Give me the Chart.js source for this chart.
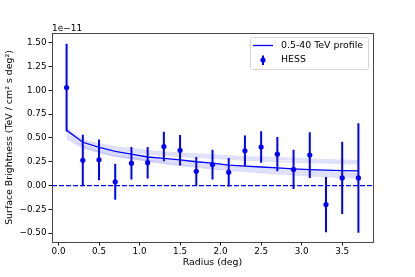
<!DOCTYPE html>
<html>
<head>
<meta charset="utf-8">
<script src="https://cdn.jsdelivr.net/npm/chart.js@4.4.0/dist/chart.umd.min.js"></script>
<style>
html, body { margin: 0; padding: 0; background: #fff; }
</style>
</head>
<body>
<canvas id="chart" width="415" height="277"></canvas>
<script>
// radius bins (deg) and HESS surface brightness, in units of 1e-11 TeV / cm2 s deg2
const radius = [0.1, 0.3, 0.5, 0.7, 0.9, 1.1, 1.3, 1.5, 1.7, 1.9, 2.1, 2.3, 2.5, 2.7, 2.9, 3.1, 3.3, 3.5, 3.7];
const hessFlux = [1.03, 0.265, 0.27, 0.04, 0.235, 0.24, 0.41, 0.37, 0.15, 0.22, 0.14, 0.365, 0.405, 0.33, 0.17, 0.32, -0.2, 0.08, 0.08];
const hessErr = [0.46, 0.27, 0.215, 0.19, 0.17, 0.165, 0.155, 0.16, 0.15, 0.155, 0.15, 0.16, 0.165, 0.18, 0.205, 0.24, 0.29, 0.38, 0.575];

// best 0.5-40 TeV profile
const profile = [0.58, 0.455, 0.40, 0.36, 0.33, 0.30, 0.285, 0.27, 0.25, 0.235, 0.215, 0.205, 0.195, 0.185, 0.175, 0.168, 0.163, 0.158, 0.155];

// faint profile samples
const sample1 = [0.61, 0.48, 0.44, 0.41, 0.39, 0.37, 0.355, 0.345, 0.335, 0.325, 0.315, 0.305, 0.30, 0.295, 0.29, 0.28, 0.275, 0.27, 0.265];
const sample2 = [0.60, 0.47, 0.43, 0.40, 0.38, 0.36, 0.345, 0.335, 0.325, 0.315, 0.305, 0.295, 0.29, 0.285, 0.28, 0.27, 0.265, 0.26, 0.255];
const sample3 = [0.59, 0.465, 0.42, 0.39, 0.37, 0.35, 0.335, 0.325, 0.315, 0.305, 0.295, 0.285, 0.28, 0.275, 0.27, 0.26, 0.255, 0.25, 0.245];
const sample4 = [0.58, 0.46, 0.41, 0.38, 0.36, 0.34, 0.325, 0.315, 0.305, 0.295, 0.285, 0.275, 0.27, 0.26, 0.255, 0.25, 0.245, 0.24, 0.235];
const sample5 = [0.57, 0.45, 0.40, 0.37, 0.35, 0.33, 0.315, 0.305, 0.295, 0.285, 0.275, 0.265, 0.26, 0.25, 0.245, 0.24, 0.235, 0.23, 0.225];
const sample6 = [0.55, 0.435, 0.38, 0.345, 0.32, 0.295, 0.275, 0.26, 0.245, 0.23, 0.215, 0.205, 0.19, 0.18, 0.17, 0.16, 0.15, 0.14, 0.13];
const sample7 = [0.54, 0.43, 0.375, 0.34, 0.31, 0.285, 0.265, 0.25, 0.235, 0.22, 0.205, 0.195, 0.18, 0.17, 0.16, 0.15, 0.14, 0.13, 0.122];
const sample8 = [0.53, 0.42, 0.365, 0.33, 0.30, 0.275, 0.255, 0.24, 0.225, 0.21, 0.195, 0.185, 0.17, 0.16, 0.15, 0.14, 0.13, 0.12, 0.113];
const sample9 = [0.52, 0.415, 0.36, 0.32, 0.295, 0.27, 0.25, 0.23, 0.215, 0.20, 0.185, 0.175, 0.16, 0.15, 0.14, 0.13, 0.12, 0.112, 0.105];
const sample10 = [0.51, 0.41, 0.355, 0.315, 0.29, 0.265, 0.24, 0.22, 0.205, 0.19, 0.175, 0.165, 0.15, 0.14, 0.13, 0.12, 0.11, 0.103, 0.096];
const sample11 = [0.50, 0.40, 0.35, 0.31, 0.285, 0.26, 0.235, 0.215, 0.20, 0.18, 0.165, 0.155, 0.14, 0.13, 0.12, 0.11, 0.10, 0.093, 0.086];
const sample12 = [0.49, 0.395, 0.345, 0.305, 0.28, 0.255, 0.23, 0.21, 0.19, 0.175, 0.16, 0.145, 0.135, 0.12, 0.11, 0.10, 0.092, 0.083, 0.076];
const samples = [sample1, sample2, sample3, sample4, sample5, sample6, sample7, sample8, sample9, sample10, sample11, sample12];

const xTicks = [0, 0.5, 1.0, 1.5, 2.0, 2.5, 3.0, 3.5];
const yTicks = [-0.5, -0.25, 0, 0.25, 0.5, 0.75, 1.0, 1.25, 1.5];
const xMin = -0.08, xMax = 3.88;
const yMin = -0.593, yMax = 1.603;
const legendLabels = ['0.5-40 TeV profile', 'HESS'];

const FONT = 'DejaVu Sans';
const BLUE = 'rgb(0,0,255)';

function toPoints(ys) {
    return radius.map((x, i) => ({ x: x, y: ys[i] }));
}

// error bars as one line with gaps between bins
const errData = [];
radius.forEach((x, i) => {
    errData.push({ x: x, y: hessFlux[i] - hessErr[i] });
    errData.push({ x: x, y: hessFlux[i] + hessErr[i] });
    errData.push({ x: x, y: null });
});

const datasets = [
    { data: toPoints(hessFlux), showLine: false, pointRadius: 2.6, pointBackgroundColor: BLUE, pointBorderWidth: 0 },
    { data: errData, showLine: true, spanGaps: false, borderColor: BLUE, borderWidth: 2, pointRadius: 0 },
    { data: toPoints(profile), showLine: true, borderColor: BLUE, borderWidth: 1.3, pointRadius: 0 },
    { data: [{ x: xMin, y: 0 }, { x: xMax, y: 0 }], showLine: true, borderColor: BLUE, borderWidth: 1.3, borderDash: [5, 2], pointRadius: 0 }
];
samples.forEach(s => {
    datasets.push({ data: toPoints(s), showLine: true, borderColor: 'rgba(0,0,255,0.12)', borderWidth: 1, pointRadius: 0 });
});

const framePlugin = {
    id: 'frame',
    afterDraw(chart) {
        const ctx = chart.ctx;
        const a = chart.chartArea;
        ctx.save();
        ctx.strokeStyle = '#333';
        ctx.lineWidth = 0.9;
        ctx.strokeRect(Math.round(a.left) + 0.5, Math.round(a.top) + 0.5, Math.round(a.right - a.left), Math.round(a.bottom - a.top));

        // offset text
        ctx.fillStyle = '#000';
        ctx.font = '9px "' + FONT + '"';
        ctx.textAlign = 'left';
        ctx.textBaseline = 'alphabetic';
        ctx.fillText('1e\u221211', a.left, a.top - 2);

        // legend
        const bx = 250, by = 37, bw = 118, bh = 32;
        ctx.beginPath();
        ctx.roundRect(bx + 0.5, by + 0.5, bw, bh, 2);
        ctx.fillStyle = 'rgba(255,255,255,0.8)';
        ctx.fill();
        ctx.strokeStyle = '#d6d6d6';
        ctx.lineWidth = 1;
        ctx.stroke();

        ctx.strokeStyle = BLUE;
        ctx.lineWidth = 1.3;
        ctx.beginPath();
        ctx.moveTo(253, 45.5);
        ctx.lineTo(273, 45.5);
        ctx.stroke();

        ctx.lineWidth = 2;
        ctx.beginPath();
        ctx.moveTo(263, 55.5);
        ctx.lineTo(263, 65);
        ctx.stroke();
        ctx.fillStyle = BLUE;
        ctx.beginPath();
        ctx.arc(263, 60, 2.6, 0, Math.PI * 2);
        ctx.fill();

        ctx.fillStyle = '#000';
        ctx.font = '9.4px "' + FONT + '"';
        ctx.textBaseline = 'middle';
        ctx.fillText(legendLabels[0], 281, 46);
        ctx.fillText(legendLabels[1], 281, 60);
        ctx.restore();
    }
};

const tickFont = { family: FONT, size: 8.8 };
const labelFont = { family: FONT, size: 9.4 };

new Chart(document.getElementById('chart'), {
    type: 'scatter',
    data: { datasets: datasets },
    options: {
        responsive: false,
        animation: false,
        devicePixelRatio: 1,
        layout: { padding: { left: 0, right: 42, top: 33, bottom: 0 } },
        plugins: { legend: { display: false }, tooltip: { enabled: false } },
        scales: {
            x: {
                type: 'linear',
                min: xMin,
                max: xMax,
                afterBuildTicks: s => { s.ticks = xTicks.map(v => ({ value: v })); },
                afterFit: s => { s.height = 35; },
                ticks: {
                    callback: v => v.toFixed(1),
                    font: tickFont,
                    color: '#000',
                    padding: 1,
                    maxRotation: 0,
                    autoSkip: false
                },
                grid: { drawOnChartArea: false, drawTicks: true, tickLength: 3.5, tickColor: '#000', tickWidth: 0.9 },
                border: { display: false },
                title: {
                    display: true,
                    text: 'Radius (deg)',
                    font: labelFont,
                    color: '#000',
                    padding: { top: 0, bottom: 9 }
                }
            },
            y: {
                type: 'linear',
                min: yMin,
                max: yMax,
                afterBuildTicks: s => { s.ticks = yTicks.map(v => ({ value: v })); },
                afterFit: s => { s.width = 52; },
                ticks: {
                    callback: v => v.toFixed(2).replace('-', '\u2212'),
                    font: tickFont,
                    color: '#000',
                    padding: 2,
                    autoSkip: false
                },
                grid: { drawOnChartArea: false, drawTicks: true, tickLength: 3.5, tickColor: '#000', tickWidth: 0.9 },
                border: { display: false },
                title: {
                    display: true,
                    text: 'Surface Brightness (TeV / cm\u00b2 s deg\u00b2)',
                    font: labelFont,
                    color: '#000',
                    padding: { top: 4, bottom: 0 }
                }
            }
        }
    },
    plugins: [framePlugin]
});
</script>
</body>
</html>
